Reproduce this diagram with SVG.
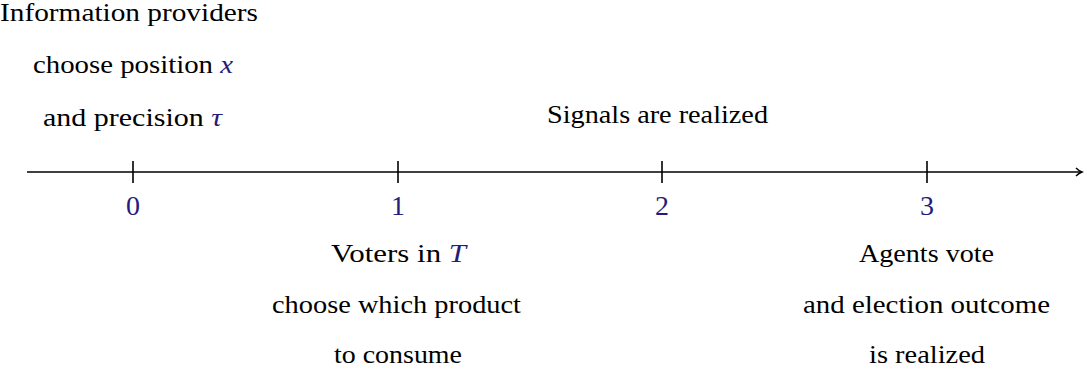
<svg xmlns="http://www.w3.org/2000/svg" width="1089" height="376" viewBox="0 0 1089 376">
<style>
.t{font-family:"Liberation Serif","Times New Roman",Times,serif;font-size:26px;fill:#000}
.m{font-family:"Liberation Serif","Times New Roman",Times,serif;font-style:italic;fill:#261b78}
.n{font-family:"Liberation Serif","Times New Roman",Times,serif;font-size:28px;fill:#261b78;text-anchor:middle}
.ax{stroke:#000;stroke-width:1.6;fill:none}
</style>
<defs>
<marker id="arr" viewBox="0 0 10 10" refX="8" refY="5" markerWidth="10" markerHeight="10" markerUnits="userSpaceOnUse" orient="auto">
<path d="M2,1 Q5,4 8,5 Q5,6 2,9" fill="none" stroke="#000" stroke-width="1.4"/>
</marker>
</defs>
<g id="connectors">
<line class="ax" x1="27" y1="172" x2="1082" y2="172" marker-end="url(#arr)"/>
<line class="ax" x1="133" y1="161" x2="133" y2="183"/>
<line class="ax" x1="398" y1="161" x2="398" y2="183"/>
<line class="ax" x1="662" y1="161" x2="662" y2="183"/>
<line class="ax" x1="927" y1="161" x2="927" y2="183"/>
</g>
<g id="tick0"><text class="n" x="133" y="215">0</text></g>
<g id="tick1"><text class="n" x="398" y="215">1</text></g>
<g id="tick2"><text class="n" x="662" y="215">2</text></g>
<g id="tick3"><text class="n" x="927" y="215">3</text></g>
<g id="providers">
<text class="t" x="0" y="21" font-size="24" textLength="258" lengthAdjust="spacingAndGlyphs">Information providers</text>
<text class="t" x="33" y="73" textLength="200" lengthAdjust="spacingAndGlyphs">choose position <tspan class="m">x</tspan></text>
<text class="t" x="43" y="126" textLength="179" lengthAdjust="spacingAndGlyphs">and precision <tspan class="m">τ</tspan></text>
</g>
<g id="signals">
<text class="t" x="547" y="123" textLength="221" lengthAdjust="spacingAndGlyphs">Signals are realized</text>
</g>
<g id="voters">
<text class="t" x="331" y="262" textLength="135" lengthAdjust="spacingAndGlyphs">Voters in <tspan class="m">T</tspan></text>
<text class="t" x="272" y="313" textLength="249" lengthAdjust="spacingAndGlyphs">choose which product</text>
<text class="t" x="334" y="363" textLength="128" lengthAdjust="spacingAndGlyphs">to consume</text>
</g>
<g id="agents">
<text class="t" x="859" y="262" textLength="135" lengthAdjust="spacingAndGlyphs">Agents vote</text>
<text class="t" x="803" y="313" textLength="247" lengthAdjust="spacingAndGlyphs">and election outcome</text>
<text class="t" x="869" y="363" textLength="116" lengthAdjust="spacingAndGlyphs">is realized</text>
</g>
</svg>
